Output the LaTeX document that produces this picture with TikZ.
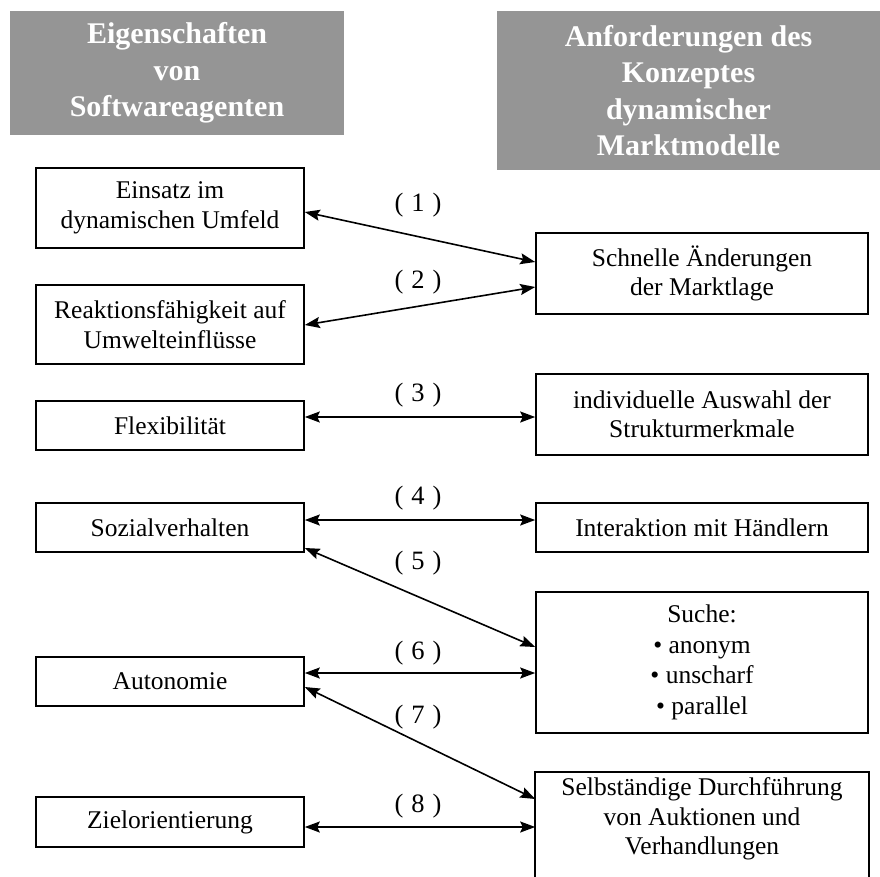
\documentclass[tikz,border=0pt]{standalone}
\usepackage{fontspec}
\setmainfont{Liberation Serif}
\usetikzlibrary{arrows.meta}
\definecolor{hdrgray}{RGB}{149,149,149}
\begin{document}
\begin{tikzpicture}[x=1pt,y=-1pt,
  hdr/.style={fill=hdrgray, text=white, font=\fontsize{30}{36.5}\selectfont\bfseries, align=center, inner sep=0pt},
  box/.style={draw, line width=1.6pt, font=\fontsize{25.5}{29.5}\selectfont, align=center, inner sep=0pt},
  lbox/.style={box, minimum width=268pt},
  rbox/.style={box, minimum width=332pt},
  lbl/.style={font=\fontsize{26.5}{29}\selectfont, inner sep=0pt},
  tip/.tip={Stealth[length=15pt,width=11pt,inset=2.5pt]},
  link/.style={line width=1.6pt, tip-tip}]
\useasboundingbox (0,0) rectangle (880,877);
% headers
\node[hdr, minimum width=334pt, minimum height=124pt] (H1) at (177,73) {Eigenschaften\\von\\Softwareagenten};
\node[hdr, minimum width=383pt, minimum height=159pt] (H2) at (688.5,90.5) {Anforderungen des\\Konzeptes\\dynamischer\\Marktmodelle};
% left boxes
\node[lbox, minimum height=80pt] (L1) at (170,208) {Einsatz im\\dynamischen Umfeld};
\node[lbox, minimum height=79pt] (L2) at (170,324.5) {Reaktionsfähigkeit auf\\Umwelteinflüsse};
\node[lbox, minimum height=49pt] (L3) at (170,425.5) {Flexibilität};
\node[lbox, minimum height=49pt] (L4) at (170,527.5) {Sozialverhalten};
\node[lbox, minimum height=49pt] (L5) at (170,681.5) {Autonomie};
\node[lbox, minimum height=50pt] (L6) at (170,822) {Zielorientierung};
% right boxes
\node[rbox, minimum height=81pt] (R1) at (702,273.5) {Schnelle Änderungen\\der Marktlage};
\node[rbox, minimum height=81pt] (R2) at (702,414.5) {individuelle Auswahl der\\Strukturmerkmale};
\node[rbox, minimum height=49pt] (R3) at (702,527.5) {Interaktion mit Händlern};
\node[rbox, minimum height=141pt, font=\fontsize{25.5}{30.5}\selectfont] (R4) at (702,662.5) {Suche:\\• anonym\\• unscharf\\• parallel};
\node[rbox, draw=none, minimum height=92pt] (R5) at (702,819) {Selbständige Durchführung\\von Auktionen und\\Verhandlungen};
\draw[line width=1.6pt] (R5.north west) rectangle ([yshift=-30pt]R5.south east);
% connectors
\draw[link] ([yshift=-4pt]L1.east) -- ([yshift=11.5pt]R1.west);
\draw[link] ([yshift=-0.5pt]L2.east) -- ([yshift=-13.5pt]R1.west);
\draw[link] ([yshift=8.5pt]L3.east) -- ([yshift=-2.5pt]R2.west);
\draw[link] ([yshift=7.5pt]L4.east) -- ([yshift=7.5pt]R3.west);
\draw[link] ([yshift=-20.5pt]L4.east) -- ([yshift=15.5pt]R4.west);
\draw[link] ([yshift=8.5pt]L5.east) -- ([yshift=-10.5pt]R4.west);
\draw[link] ([yshift=-5.5pt]L5.east) -- ([yshift=20pt]R5.west);
\draw[link] ([yshift=-5pt]L6.east) -- ([yshift=-8pt]R5.west);
% labels
\node[lbl] (n1) at (418,205) {(\hspace{0.3em}1\hspace{0.3em})};
\node[lbl] (n2) at (418,282) {(\hspace{0.3em}2\hspace{0.3em})};
\node[lbl] (n3) at (418,395) {(\hspace{0.3em}3\hspace{0.3em})};
\node[lbl] (n4) at (418,498) {(\hspace{0.3em}4\hspace{0.3em})};
\node[lbl] (n5) at (418,563) {(\hspace{0.3em}5\hspace{0.3em})};
\node[lbl] (n6) at (418,653) {(\hspace{0.3em}6\hspace{0.3em})};
\node[lbl] (n7) at (418,717) {(\hspace{0.3em}7\hspace{0.3em})};
\node[lbl] (n8) at (418,806) {(\hspace{0.3em}8\hspace{0.3em})};
\end{tikzpicture}
\end{document}
